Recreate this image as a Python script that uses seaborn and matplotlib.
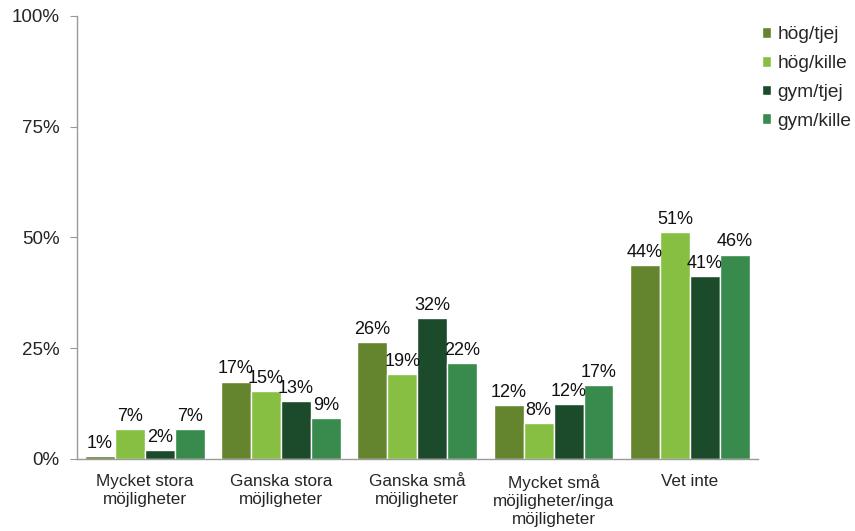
import pandas as pd
import matplotlib
matplotlib.use("Agg")
import matplotlib.pyplot as plt
import seaborn as sns

categories = [
    "Mycket stora\nmöjligheter",
    "Ganska stora\nmöjligheter",
    "Ganska små\nmöjligheter",
    "Mycket små\nmöjligheter/inga\nmöjligheter",
    "Vet inte",
]
groups = ["hög/tjej", "hög/kille", "gym/tjej", "gym/kille"]
hog_tjej = [0.6, 17.4, 26.4, 12.1, 43.8]
hog_kille = [6.6, 15.3, 19.1, 8.1, 51.2]
gym_tjej = [1.9, 13.1, 31.7, 12.3, 41.3]
gym_kille = [6.6, 9.1, 21.6, 16.7, 46.1]
colors = ["#64842e", "#86bf42", "#1b4b2b", "#388b4d"]

rows = []
for g, vals in zip(groups, [hog_tjej, hog_kille, gym_tjej, gym_kille]):
    for c, v in zip(categories, vals):
        rows.append({"kategori": c, "grupp": g, "andel": v})
df = pd.DataFrame(rows)

sns.set_style("white")
plt.rcParams["font.family"] = ["Liberation Sans", "DejaVu Sans"]

fig = plt.figure(figsize=(8.55, 5.31), dpi=100)
ax = fig.add_axes([0.0895, 0.1362, 0.797, 0.8337])

sns.barplot(data=df, x="kategori", y="andel", hue="grupp", order=categories,
            hue_order=groups, palette=colors, width=0.88, saturation=1,
            errorbar=None, ax=ax)

# procentetiketter ovanför staplarna
for cont in ax.containers:
    ax.bar_label(cont, labels=[f"{v:.0f}%" for v in cont.datavalues],
                 padding=3, fontsize=13, color="#111111")

ax.set_ylim(0, 100)
ax.set_xlim(-0.5, 4.5)
ax.set_yticks([0, 25, 50, 75, 100])
ax.set_yticklabels(["0%", "25%", "50%", "75%", "100%"], fontsize=13.5)
ax.set_xticks(range(5))
ax.set_xticklabels(categories, fontsize=12.3, linespacing=1.25)
ax.set_xticks([i - 0.5 for i in range(6)], minor=True)
ax.tick_params(axis="x", which="major", length=0, pad=11)
ax.tick_params(axis="x", which="minor", length=5, color="#999999", direction="out")
ax.tick_params(axis="y", length=5, color="#999999", direction="out", pad=7, left=True)
ax.set_xlabel("")
ax.set_ylabel("")

for s in ["top", "right"]:
    ax.spines[s].set_visible(False)
for s in ["left", "bottom"]:
    ax.spines[s].set_color("#999999")
    ax.spines[s].set_linewidth(1)

ax.legend(loc="upper left", bbox_to_anchor=(0.891, 0.951),
          bbox_transform=fig.transFigure, frameon=False, fontsize=13.8,
          handlelength=0.5, handleheight=0.5, handletextpad=0.3,
          labelspacing=0.62, borderpad=0, borderaxespad=0)

fig.savefig("out.png", dpi=100)
